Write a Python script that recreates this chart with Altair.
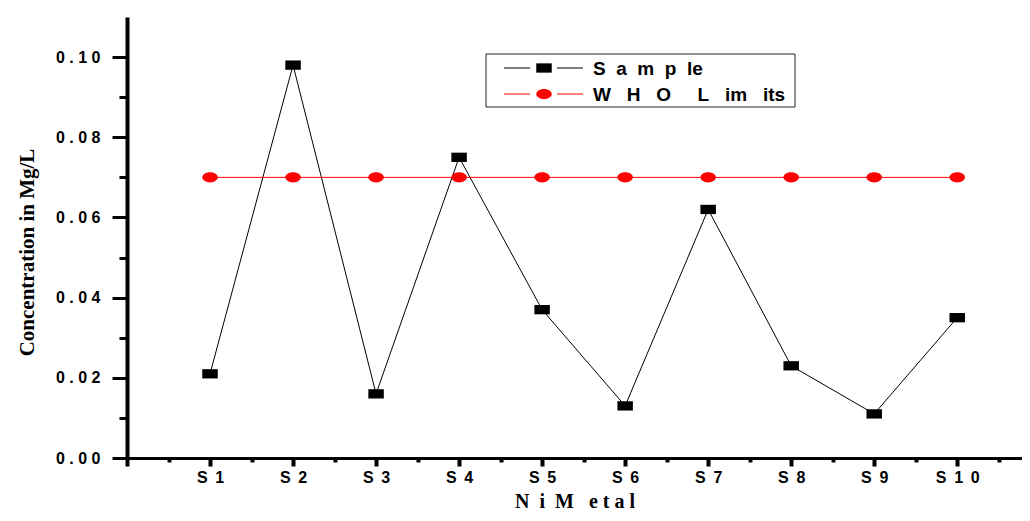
import json
import altair as alt
import pandas as pd

# ---- data ----
categories = ["S1", "S2", "S3", "S4", "S5", "S6", "S7", "S8", "S9", "S10"]
sample_values = [0.021, 0.098, 0.016, 0.075, 0.037, 0.013, 0.062, 0.023, 0.011, 0.035]
who_values = [0.07, 0.07, 0.07, 0.07, 0.07, 0.07, 0.07, 0.07, 0.07, 0.07]
series_names = ["Sample", "WHO Limits"]
series_colors = ["#000000", "#ff0000"]
legend_labels = [
    "S\u00a0\u00a0a\u00a0\u00a0m\u00a0\u00a0p\u00a0\u00a0le",
    "W\u00a0\u00a0\u00a0H\u00a0\u00a0\u00a0O\u00a0\u00a0\u00a0\u00a0\u00a0L\u00a0\u00a0\u00a0im\u00a0\u00a0\u00a0its",
]
y_tick_values = [0.0, 0.01, 0.02, 0.03, 0.04, 0.05, 0.06, 0.07, 0.08, 0.09, 0.10]
y_tick_text = ["0.00", "0.02", "0.04", "0.06", "0.08", "0.10"]
x_tick_values = [0, 0.5, 1, 1.5, 2, 2.5, 3, 3.5, 4, 4.5, 5, 5.5, 6, 6.5, 7, 7.5, 8, 8.5, 9, 9.5, 10, 10.5]
x_title = "N\u00a0\u00a0i\u00a0\u00a0M\u00a0\u00a0\u00a0e\u00a0t\u00a0a\u00a0l"
y_title = "Concentration in Mg/L"

X_GAP = "\u00a0\u2009"
Y_GAP = "\u00a0"
x_labels = [X_GAP.join(c) for c in categories]
y_labels = [Y_GAP.join(t) for t in y_tick_text]

rows = []
for i, c in enumerate(categories):
    rows.append({"pos": i + 1, "category": c, "value": sample_values[i], "series": series_names[0]})
for i, c in enumerate(categories):
    rows.append({"pos": i + 1, "category": c, "value": who_values[i], "series": series_names[1]})
df = pd.DataFrame(rows)
legend_df = pd.DataFrame({"series": series_names, "label": legend_labels})

W, H = 895, 441

x_scale = alt.Scale(domain=[0, 10.78], nice=False, zero=False)
y_scale = alt.Scale(domain=[0, 0.11], nice=False, zero=False)
color_scale = alt.Scale(domain=series_names, range=series_colors)
shape_scale = alt.Scale(
    domain=series_names,
    range=[
        "M-1,-0.6L1,-0.6L1,0.6L-1,0.6Z",
        "M-1,0A1,0.65,0,1,1,1,0A1,0.65,0,1,1,-1,0Z",
    ],
)

x_axis = alt.Axis(
    values=x_tick_values,
    labelExpr="(datum.value % 1 != 0 || datum.value < 1) ? '' : "
    + json.dumps(x_labels, ensure_ascii=False)
    + "[datum.value - 1]",
    tickSize={"condition": {"test": "datum.value % 1 != 0", "value": 4}, "value": 8},
    tickWidth=4,
    tickColor="black",
    domainWidth=3,
    domainColor="black",
    labelFont="Liberation Sans",
    labelFontWeight="bold",
    labelFontSize=16,
    labelColor="black",
    labelPadding=3,
    labelOverlap=False,
    labelFlush=False,
    labelBound=False,
    grid=False,
    title=x_title,
    titleFont="Liberation Serif",
    titleFontSize=20,
    titleFontWeight="bold",
    titleColor="black",
    titleBaseline="alphabetic",
    titlePadding=22,
)

y_axis = alt.Axis(
    values=y_tick_values,
    labelExpr="(round(datum.value * 100) % 2 == 1) ? '' : "
    + json.dumps(y_labels, ensure_ascii=False)
    + "[round(datum.value * 50)]",
    tickSize={"condition": {"test": "round(datum.value * 100) % 2 == 1", "value": 8}, "value": 15},
    tickWidth=3,
    tickColor="black",
    domainWidth=4,
    domainColor="black",
    labelFont="Liberation Sans",
    labelFontWeight="bold",
    labelFontSize=16,
    labelColor="black",
    labelPadding=12,
    labelOverlap=False,
    labelFlush=False,
    labelBound=False,
    grid=False,
    title=y_title,
    titleFont="Liberation Serif",
    titleFontSize=21,
    titleFontWeight="bold",
    titleColor="black",
    titlePadding=18,
    titleY=235,
)

base = alt.Chart(df).encode(
    x=alt.X("pos:Q", scale=x_scale, axis=x_axis),
    y=alt.Y("value:Q", scale=y_scale, axis=y_axis),
    color=alt.Color("series:N", scale=color_scale, legend=None),
)
lines = base.mark_line(strokeWidth=1)
points = base.mark_point(filled=True, opacity=1, strokeWidth=0, size=240).encode(
    shape=alt.Shape("series:N", scale=shape_scale, legend=None)
)
main = alt.layer(lines, points)

# ---- legend box ----
ly = alt.Y("series:N", scale=alt.Scale(type="point", domain=series_names, range=[51, 77], padding=0), axis=None)
box = alt.Chart(alt.Data(values=[{"a": 1}])).mark_rect(
    fill="white", stroke="#222222", strokeWidth=1
).encode(x=alt.value(359), x2=alt.value(668), y=alt.value(37), y2=alt.value(90))
lcolor = alt.Color("series:N", scale=color_scale, legend=None)
seg1 = alt.Chart(legend_df).mark_rule(strokeWidth=1).encode(
    x=alt.value(377), x2=alt.value(403), y=ly, color=lcolor
)
seg2 = alt.Chart(legend_df).mark_rule(strokeWidth=1).encode(
    x=alt.value(430), x2=alt.value(456), y=ly, color=lcolor
)
lpts = alt.Chart(legend_df).mark_point(filled=True, opacity=1, strokeWidth=0, size=240).encode(
    x=alt.value(417), y=ly, color=lcolor,
    shape=alt.Shape("series:N", scale=shape_scale, legend=None),
)
ltext = alt.Chart(legend_df).mark_text(
    align="left", baseline="middle", font="Liberation Sans", fontSize=19,
    fontWeight="bold", color="black", dy=1,
).encode(x=alt.value(466), y=ly, text="label:N")
legend = alt.layer(box, seg1, seg2, lpts, ltext)

chart = (
    alt.layer(main, legend)
    .resolve_scale(y="independent")
    .properties(
        width=W,
        height=H,
        autosize="none",
        padding={"left": 119, "top": 9, "right": 0, "bottom": 55},
        background="white",
    )
    .configure_view(stroke=None)
)

chart.save("out.html", embed_options={"renderer": "svg", "actions": False})
